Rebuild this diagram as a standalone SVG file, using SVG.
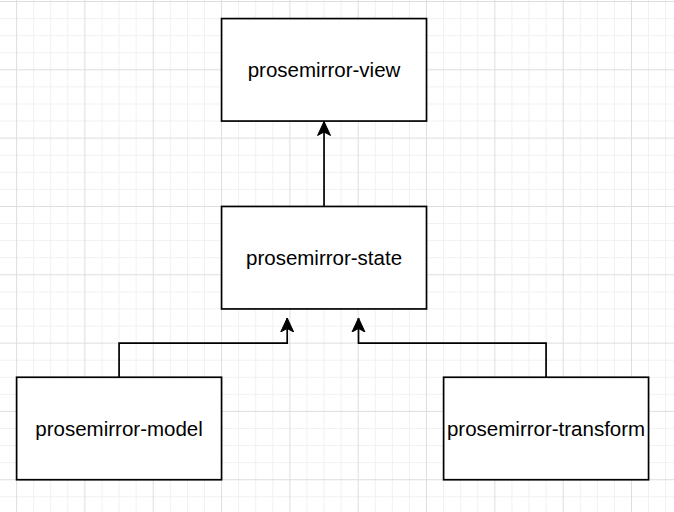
<svg xmlns="http://www.w3.org/2000/svg" width="674" height="512" viewBox="0 0 674 512">
  <style>
    .minor { stroke: #f1f1f1; stroke-width: 1; fill: none; }
    .major { stroke: #dedede; stroke-width: 1; fill: none; }
    .box { fill: #ffffff; stroke: #000000; stroke-width: 1.7; }
    .label { font-family: "Liberation Sans", Arial, Helvetica, sans-serif; font-size: 20.5px; fill: #000000; text-anchor: middle; }
    .edge { fill: none; stroke: #000000; stroke-width: 1.7; }
  </style>
  <defs>
    <marker id="arrow" viewBox="0 -8 16 16" markerUnits="userSpaceOnUse" markerWidth="16" markerHeight="16" refX="14" refY="0" orient="auto">
      <path d="M0,-6.5 L14,0 L0,6.5 L3.5,0 Z" fill="#000000" stroke="#000000" stroke-width="1"/>
    </marker>
  </defs>
  <rect x="0" y="0" width="674" height="512" fill="#ffffff"/>
  <g id="grid">
    <path class="minor" d="M33.68 0V512M50.76 0V512M67.84 0V512M102 0V512M119.08 0V512M136.16 0V512M170.32 0V512M187.4 0V512M204.48 0V512M238.64 0V512M255.72 0V512M272.8 0V512M306.96 0V512M324.04 0V512M341.12 0V512M375.28 0V512M392.36 0V512M409.44 0V512M443.6 0V512M460.68 0V512M477.76 0V512M511.92 0V512M529 0V512M546.08 0V512M580.24 0V512M597.32 0V512M614.4 0V512M648.56 0V512M665.64 0V512"/>
    <path class="minor" d="M0 18.58H674M0 35.66H674M0 52.74H674M0 86.9H674M0 103.98H674M0 121.06H674M0 155.22H674M0 172.3H674M0 189.38H674M0 223.54H674M0 240.62H674M0 257.7H674M0 291.86H674M0 308.94H674M0 326.02H674M0 360.18H674M0 377.26H674M0 394.34H674M0 428.5H674M0 445.58H674M0 462.66H674M0 496.82H674"/>
    <path class="major" d="M16.6 0V512M84.92 0V512M153.24 0V512M221.56 0V512M289.88 0V512M358.2 0V512M426.52 0V512M494.84 0V512M563.16 0V512M631.48 0V512"/>
    <path class="major" d="M0 1.5H674M0 69.82H674M0 138.14H674M0 206.46H674M0 274.78H674M0 343.1H674M0 411.42H674M0 479.74H674"/>
  </g>
  <g id="connectors">
    <path id="state-to-view" class="edge" d="M324.04 206.46V121.5" marker-end="url(#arrow)"/>
    <path id="model-to-state" class="edge" d="M119.08 377.26V343.1H287.2V318" marker-end="url(#arrow)"/>
    <path id="transform-to-state" class="edge" d="M546.08 377.26V343.1H358.5V318" marker-end="url(#arrow)"/>
  </g>
  <g id="node-view">
    <rect class="box" x="221.56" y="18.58" width="204.96" height="102.48"/>
    <text class="label" x="324.04" y="77.2">prosemirror-view</text>
  </g>
  <g id="node-state">
    <rect class="box" x="221.56" y="206.46" width="204.96" height="102.48"/>
    <text class="label" x="324.04" y="265.1">prosemirror-state</text>
  </g>
  <g id="node-model">
    <rect class="box" x="16.6" y="377.26" width="204.96" height="102.48"/>
    <text class="label" x="119.08" y="435.9">prosemirror-model</text>
  </g>
  <g id="node-transform">
    <rect class="box" x="443.6" y="377.26" width="204.96" height="102.48"/>
    <text class="label" x="546.08" y="435.9">prosemirror-transform</text>
  </g>
</svg>
